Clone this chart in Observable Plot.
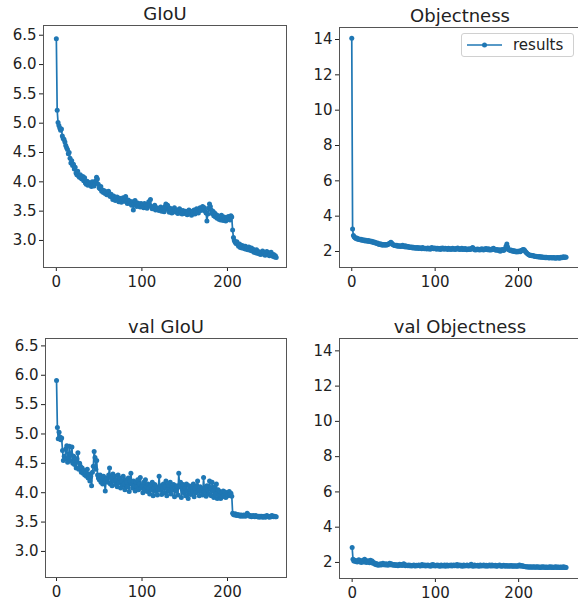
<!DOCTYPE html>
<html><head><meta charset="utf-8">
<script src="https://cdn.jsdelivr.net/npm/d3@7"></script>
<script src="https://cdn.jsdelivr.net/npm/@observablehq/plot@0.6"></script>
<style>
html,body{margin:0;padding:0;background:#fff;}
#wrap{position:relative;width:578px;height:603px;overflow:hidden;background:#fff;font-family:"DejaVu Sans",sans-serif;}
#wrap svg{position:absolute;overflow:visible;}
#legend{position:absolute;left:461px;top:33px;width:111px;height:22px;border:1px solid #d0d0d0;border-radius:3px;background:#fff;box-sizing:content-box;}
#legend svg{position:absolute;left:0;top:0;}
#legend span{position:absolute;left:51px;top:2px;font-size:15px;color:#222;font-family:"DejaVu Sans",sans-serif;line-height:18px;}
</style></head><body><div id="wrap"></div>
<script>
const xTicks = [0, 100, 200];
const giouTicks = [3.0, 3.5, 4.0, 4.5, 5.0, 5.5, 6.0, 6.5];
const objTicks = [2, 4, 6, 8, 10, 12, 14];
const titles = ["GIoU", "Objectness", "val GIoU", "val Objectness"];
const legendLabel = "results";

const giou = [
6.44,5.22,5.01,4.96,4.92,4.88,4.90,4.78,4.74,4.72,
4.68,4.62,4.58,4.55,4.48,4.50,4.40,4.32,4.36,4.28,
4.30,4.22,4.25,4.15,4.12,4.18,4.10,4.08,4.12,4.06,
4.05,4.09,4.02,4.07,3.98,3.96,4.01,3.94,3.99,3.95,
3.97,3.92,4.00,3.95,3.93,3.98,4.02,4.08,4.05,3.96,
3.90,3.88,3.92,3.84,3.86,3.82,3.85,3.80,3.83,3.78,
3.80,3.84,3.77,3.75,3.79,3.74,3.70,3.76,3.72,3.68,
3.71,3.74,3.69,3.66,3.72,3.70,3.65,3.68,3.73,3.67,
3.70,3.75,3.66,3.63,3.69,3.64,3.67,3.62,3.60,3.66,
3.52,3.63,3.68,3.61,3.58,3.64,3.60,3.62,3.57,3.63,
3.59,3.61,3.56,3.63,3.58,3.60,3.55,3.62,3.66,3.59,
3.70,3.58,3.54,3.57,3.55,3.60,3.52,3.56,3.53,3.55,
3.51,3.54,3.57,3.50,3.53,3.55,3.49,3.58,3.62,3.54,
3.60,3.52,3.48,3.55,3.50,3.47,3.53,3.49,3.56,3.51,
3.48,3.52,3.46,3.50,3.54,3.47,3.49,3.45,3.51,3.48,
3.46,3.50,3.47,3.44,3.49,3.52,3.46,3.48,3.43,3.50,
3.47,3.52,3.45,3.49,3.54,3.50,3.47,3.53,3.56,3.51,
3.55,3.58,3.52,3.56,3.50,3.47,3.33,3.45,3.55,3.62,
3.58,3.52,3.46,3.50,3.42,3.47,3.40,3.44,3.38,3.42,
3.36,3.40,3.35,3.43,3.38,3.34,3.40,3.37,3.33,3.39,
3.36,3.41,3.38,3.35,3.42,3.40,3.18,3.05,3.00,2.97,
2.95,2.98,2.93,2.90,2.94,2.88,2.92,2.87,2.91,2.89,
2.86,2.90,2.85,2.88,2.84,2.89,2.86,2.83,2.87,2.82,
2.85,2.80,2.83,2.79,2.84,2.78,2.81,2.77,2.80,2.76,
2.79,2.82,2.77,2.80,2.75,2.78,2.81,2.76,2.79,2.74,
2.77,2.80,2.75,2.73,2.76,2.72,2.74,2.71];

const objectness = [
14.07,3.27,2.90,2.82,2.78,2.74,2.76,2.70,2.72,2.68,
2.66,2.70,2.64,2.67,2.62,2.65,2.60,2.63,2.61,2.58,
2.62,2.57,2.60,2.55,2.58,2.52,2.55,2.50,2.53,2.48,
2.45,2.48,2.42,2.40,2.44,2.38,2.41,2.36,2.40,2.37,
2.39,2.35,2.40,2.38,2.42,2.45,2.48,2.52,2.46,2.40,
2.38,2.34,2.36,2.32,2.35,2.30,2.33,2.29,2.32,2.28,
2.31,2.35,2.30,2.27,2.32,2.26,2.29,2.25,2.28,2.23,
2.26,2.22,2.25,2.20,2.24,2.21,2.18,2.23,2.19,2.22,
2.17,2.21,2.18,2.20,2.16,2.22,2.18,2.15,2.19,2.17,
2.14,2.20,2.16,2.18,2.13,2.19,2.22,2.17,2.15,2.20,
2.16,2.18,2.13,2.19,2.15,2.17,2.12,2.18,2.14,2.20,
2.16,2.13,2.19,2.15,2.17,2.12,2.18,2.14,2.16,2.11,
2.15,2.18,2.13,2.16,2.12,2.17,2.14,2.20,2.15,2.12,
2.16,2.13,2.18,2.11,2.15,2.12,2.17,2.13,2.10,2.14,
2.12,2.16,2.11,2.14,2.19,2.22,2.15,2.12,2.09,2.13,
2.10,2.14,2.11,2.08,2.13,2.10,2.15,2.12,2.09,2.14,
2.11,2.17,2.13,2.10,2.15,2.08,2.12,2.09,2.14,2.11,
2.18,2.13,2.10,2.07,2.12,2.09,2.05,2.10,2.02,2.08,
2.08,2.12,2.06,2.10,2.15,2.30,2.42,2.25,2.12,2.08,
2.05,2.09,2.03,2.06,2.00,2.04,1.98,2.02,1.97,2.01,
1.99,2.03,1.98,2.04,2.07,2.10,2.12,2.08,2.02,1.96,
1.90,1.86,1.83,1.80,1.78,1.79,1.76,1.77,1.74,1.75,
1.71,1.73,1.70,1.72,1.69,1.71,1.68,1.70,1.67,1.69,
1.66,1.68,1.65,1.67,1.64,1.66,1.65,1.63,1.66,1.64,
1.65,1.63,1.66,1.64,1.62,1.65,1.63,1.66,1.64,1.62,
1.65,1.68,1.64,1.67,1.70,1.66,1.69,1.67];

const valGiou = [
5.91,5.11,4.92,5.03,4.95,4.90,4.93,4.72,4.55,4.62,
4.58,4.75,4.80,4.52,4.60,4.79,4.55,4.65,4.78,4.50,
4.62,4.48,4.55,4.42,4.58,4.68,4.40,4.50,4.45,4.35,
4.42,4.33,4.38,4.30,4.36,4.28,4.40,4.25,4.32,4.20,
4.28,4.12,4.35,4.45,4.70,4.60,4.40,4.55,4.30,4.25,
4.22,4.30,4.18,4.26,4.15,4.28,4.20,4.03,4.22,4.25,
4.18,4.30,4.42,4.15,4.25,4.12,4.32,4.20,4.28,4.14,
4.22,4.10,4.30,4.17,4.25,4.08,4.20,4.12,4.28,4.15,
4.05,4.22,4.18,4.10,4.25,4.02,4.20,4.33,4.15,4.08,
4.20,4.12,4.03,4.18,4.10,4.22,4.05,4.15,4.26,4.08,
4.12,4.00,4.18,4.06,4.22,4.10,4.02,4.15,4.08,3.98,
4.12,4.05,4.18,3.95,4.08,4.14,4.02,4.10,3.96,4.06,
4.28,4.04,4.12,3.97,4.08,4.15,4.00,4.10,4.20,3.95,
4.06,4.13,4.02,4.18,3.98,4.10,4.05,4.14,3.93,4.08,
4.03,4.12,3.96,4.33,4.10,4.18,3.92,4.06,4.14,4.00,
4.08,3.95,4.15,4.03,3.90,4.12,4.05,3.97,4.10,4.02,
4.15,3.93,4.08,4.00,4.12,4.20,4.05,3.95,4.10,4.02,
4.07,3.96,4.26,4.02,4.09,3.94,4.12,4.05,3.98,4.20,
4.08,3.95,4.18,4.03,3.92,4.10,3.98,4.15,3.90,4.05,
3.95,4.02,3.90,4.00,3.93,4.03,3.96,4.01,3.92,3.98,
4.00,3.95,4.02,3.97,3.99,3.94,3.65,3.63,3.62,3.64,
3.62,3.61,3.63,3.61,3.62,3.60,3.62,3.61,3.60,3.62,
3.61,3.60,3.62,3.65,3.63,3.61,3.60,3.61,3.59,3.60,
3.61,3.60,3.59,3.61,3.60,3.59,3.60,3.58,3.60,3.59,
3.60,3.58,3.59,3.60,3.58,3.59,3.61,3.60,3.59,3.58,
3.60,3.59,3.61,3.60,3.59,3.60,3.59,3.59];

const valObjectness = [
2.85,2.18,2.08,2.12,2.05,2.10,2.02,2.08,2.15,2.04,
2.10,2.00,2.06,2.12,2.03,2.18,2.05,2.00,2.10,2.02,
2.08,1.98,2.12,2.04,2.08,1.95,2.00,1.92,1.88,1.94,
1.86,1.90,1.84,1.88,1.92,1.85,1.89,1.95,1.87,1.91,
1.86,1.93,1.88,1.84,1.90,1.96,1.87,1.92,1.85,1.89,
1.84,1.88,1.83,1.87,1.85,1.82,1.86,1.90,1.84,1.88,
1.83,1.87,1.92,1.85,1.82,1.86,1.83,1.81,1.85,1.82,
1.84,1.80,1.83,1.81,1.85,1.82,1.80,1.84,1.81,1.83,
1.86,1.82,1.80,1.84,1.88,1.81,1.83,1.85,1.80,1.84,
1.82,1.86,1.81,1.83,1.79,1.85,1.82,1.88,1.81,1.84,
1.80,1.83,1.86,1.81,1.84,1.79,1.82,1.85,1.80,1.83,
1.81,1.85,1.79,1.83,1.86,1.80,1.82,1.84,1.81,1.85,
1.80,1.83,1.86,1.81,1.84,1.82,1.88,1.80,1.83,1.85,
1.81,1.84,1.79,1.82,1.86,1.80,1.83,1.81,1.85,1.82,
1.80,1.84,1.81,1.90,1.83,1.79,1.82,1.85,1.80,1.83,
1.81,1.84,1.79,1.82,1.86,1.80,1.83,1.81,1.85,1.80,
1.82,1.84,1.79,1.83,1.81,1.86,1.80,1.82,1.85,1.80,
1.83,1.81,1.84,1.79,1.82,1.80,1.83,1.86,1.81,1.79,
1.82,1.80,1.84,1.81,1.79,1.83,1.80,1.82,1.78,1.81,
1.80,1.83,1.79,1.81,1.78,1.82,1.80,1.79,1.81,1.78,
1.82,1.85,1.80,1.83,1.79,1.81,1.78,1.77,1.76,1.75,
1.74,1.75,1.74,1.73,1.75,1.74,1.73,1.74,1.75,1.73,
1.74,1.73,1.75,1.74,1.73,1.74,1.72,1.74,1.73,1.75,
1.73,1.74,1.72,1.74,1.73,1.72,1.74,1.73,1.75,1.72,
1.74,1.73,1.72,1.74,1.73,1.75,1.72,1.73,1.74,1.72,
1.73,1.74,1.72,1.73,1.75,1.72,1.73,1.72];

const BLUE = "#1f77b4";
const wrap = document.getElementById("wrap");

function panel(cfg) {
  const svg = Plot.plot({
    width: cfg.width, height: cfg.height,
    marginLeft: cfg.ml, marginRight: cfg.mr, marginTop: cfg.mt, marginBottom: cfg.mb,
    x: {domain: cfg.xDomain, label: null},
    y: {domain: cfg.yDomain, label: null},
    style: {fontFamily: "DejaVu Sans, sans-serif", fontSize: "15px", color: "#222", background: "transparent", overflow: "visible"},
    marks: [
      Plot.axisX({ticks: xTicks, tickSize: 4, tickPadding: 5, label: null, fontSize: 15}),
      Plot.axisY({ticks: cfg.yTicks, tickFormat: cfg.fmt, tickSize: 4, tickPadding: 3, label: null, fontSize: 15}),
      Plot.lineY(cfg.values, {x: (d, i) => i, y: d => d, stroke: BLUE, strokeWidth: 1.7}),
      Plot.dot(cfg.values, {x: (d, i) => i, y: d => d, r: 2.5, fill: BLUE, stroke: "none"}),
      Plot.frame({stroke: "#555", strokeWidth: 1}),
      Plot.text([cfg.title], {text: d => d, frameAnchor: "top", lineAnchor: "bottom", dy: -6, fontSize: 18, fill: "#222"})
    ]
  });
  svg.style.left = cfg.left + "px";
  svg.style.top = cfg.top + "px";
  wrap.appendChild(svg);
}

panel({values: giou, title: titles[0], left: 0, top: 0, width: 290, height: 300,
  ml: 43, mr: 4, mt: 25, mb: 33, xDomain: [-15, 269], yDomain: [2.539, 6.666],
  yTicks: giouTicks, fmt: d3.format(".1f")});
panel({values: objectness, title: titles[1], left: 288, top: 0, width: 292, height: 300,
  ml: 51, mr: 0, mt: 27, mb: 33, xDomain: [-14.7, 274.3], yDomain: [1.094, 14.68],
  yTicks: objTicks, fmt: d3.format("d")});
panel({values: valGiou, title: titles[2], left: 0, top: 300, width: 290, height: 303,
  ml: 45, mr: 4, mt: 38, mb: 26, xDomain: [-12.9, 269], yDomain: [2.556, 6.626],
  yTicks: giouTicks, fmt: d3.format(".1f")});
panel({values: valObjectness, title: titles[3], left: 288, top: 300, width: 292, height: 303,
  ml: 51, mr: 0, mt: 38, mb: 25, xDomain: [-15.2, 274.3], yDomain: [1.09, 14.7],
  yTicks: objTicks, fmt: d3.format("d")});

// legend
const leg = document.createElement("div");
leg.id = "legend";
leg.innerHTML = '<svg width="50" height="22"><line x1="5" y1="11" x2="40" y2="11" stroke="' + BLUE + '" stroke-width="1.7"/><circle cx="22.5" cy="11" r="2.5" fill="' + BLUE + '"/></svg><span></span>';
leg.querySelector("span").textContent = legendLabel;
wrap.appendChild(leg);
</script></body></html>
